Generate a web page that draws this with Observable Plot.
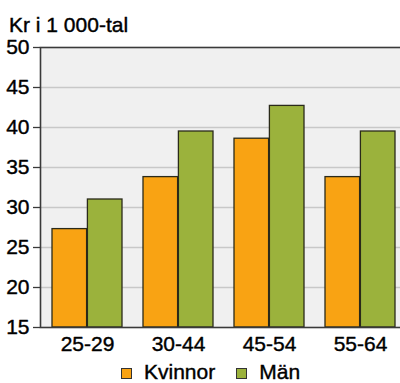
<!DOCTYPE html>
<html><head><meta charset="utf-8">
<script src="https://cdn.jsdelivr.net/npm/d3@7"></script>
<script src="https://cdn.jsdelivr.net/npm/@observablehq/plot@0.6"></script>
<style>
html,body{margin:0;padding:0;background:#fff;overflow:hidden;width:400px;height:383px;}
body{font-family:"Liberation Sans",Arial,sans-serif;color:#000;}
#title{height:30px;box-sizing:border-box;padding:13px 0 0 9px;font-size:21px;line-height:24px;-webkit-text-stroke:0.4px #000;white-space:nowrap;}
#legend{height:26px;box-sizing:border-box;padding:4px 0 0 121px;font-size:21px;line-height:24px;display:flex;align-items:center;-webkit-text-stroke:0.4px #000;}
.sw{display:inline-block;width:9px;height:9px;border:1px solid #333;margin-right:12px;position:relative;top:1px;-webkit-text-stroke:0;}
.item{display:flex;align-items:center;margin-right:21px;}
#chart svg{overflow:visible;}
</style></head>
<body>
<div id="title">Kr i 1 000-tal</div>
<div id="chart"></div>
<div id="legend"></div>
<script>
const groups = ["25-29", "30-44", "45-54", "55-64"];
const series = ["Kvinnor", "Män"];
const kvinnor = [27.3, 33.8, 38.6, 33.8];
const man = [31.0, 39.5, 42.7, 39.5];
const yTicks = [15, 20, 25, 30, 35, 40, 45, 50];
const colors = ["#f9a313", "#9bb23c"];

const rowsK = groups.map((g, i) => ({group: g, sex: series[0], value: kvinnor[i]}));
const rowsM = groups.map((g, i) => ({group: g, sex: series[1], value: man[i]}));
const yMin = yTicks[0], yMax = yTicks[yTicks.length - 1];

const xOpts = {domain: groups, range: [40, 408], paddingInner: 0.23, paddingOuter: 0.116, type: "band"};
const half = Plot.scale({x: xOpts}).bandwidth / 2;

const plot = Plot.plot({
  width: 400,
  height: 327,
  marginLeft: 40,
  marginRight: 0,
  marginTop: 17,
  marginBottom: 30,
  style: {fontFamily: "Liberation Sans, Arial, sans-serif", fontSize: "21px", color: "#000", background: "transparent"},
  x: {...xOpts, axis: null},
  y: {domain: [yMin, yMax], axis: null},
  color: {domain: series, range: colors},
  marks: [
    Plot.frame({fill: "#f0f0f0", stroke: null}),
    Plot.ruleY(yTicks.slice(1, -1), {stroke: "#c8c8c8", strokeWidth: 1.3}),
    Plot.barY(rowsK, {x: "group", y1: yMin, y2: "value", fill: "sex", insetRight: half, stroke: "#2a2a1a", strokeWidth: 1.3}),
    Plot.barY(rowsM, {x: "group", y1: yMin, y2: "value", fill: "sex", insetLeft: half, stroke: "#2a2a1a", strokeWidth: 1.3}),
    Plot.frame({fill: null, stroke: "#3a3a3a", strokeWidth: 1.6, insetRight: -3}),
    Plot.axisY(yTicks, {anchor: "left", tickSize: 7, tickPadding: 4, stroke: "#3a3a3a", strokeWidth: 1.3, fill: "#000", textStroke: "#000", textStrokeWidth: 0.4, label: null}),
    Plot.axisX({anchor: "bottom", tickSize: 0, tickPadding: 9, fill: "#000", textStroke: "#000", textStrokeWidth: 0.4, label: null})
  ]
});
document.getElementById("chart").appendChild(plot);

const leg = document.getElementById("legend");
series.forEach((s, i) => {
  const it = document.createElement("span");
  it.className = "item";
  const sw = document.createElement("span");
  sw.className = "sw";
  sw.style.background = colors[i];
  it.appendChild(sw);
  it.appendChild(document.createTextNode(s));
  leg.appendChild(it);
});
</script>
</body></html>
